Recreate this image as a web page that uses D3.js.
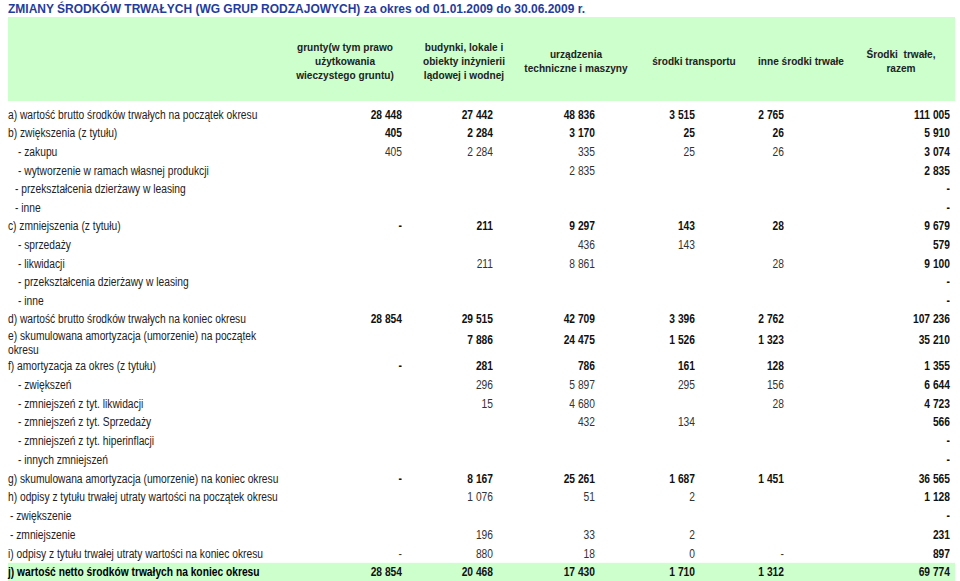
<!DOCTYPE html>
<html>
<head>
<meta charset="utf-8">
<script src="https://cdn.jsdelivr.net/npm/d3@7"></script>
<style>
  body { margin: 0; background: #fff; }
  svg { display: block; }
  text { white-space: pre; }
</style>
</head>
<body>
<svg width="960" height="581"></svg>
<script>
const title = "ZMIANY ŚRODKÓW TRWAŁYCH (WG GRUP RODZAJOWYCH) za okres od 01.01.2009 do 30.06.2009 r.";

const columns = [
    ["grunty(w tym prawo", "użytkowania", "wieczystego gruntu)"],
    ["budynki, lokale i", "obiekty inżynierii", "lądowej i wodnej"],
    ["urządzenia", "techniczne i maszyny"],
    ["środki transportu"],
    ["inne środki trwałe"],
    ["Środki  trwałe,", "razem"]
];

const rowLabels = [
    ["a) wartość brutto środków trwałych na początek okresu"],
    ["b) zwiększenia (z tytułu)"],
    ["- zakupu"],
    ["- wytworzenie w ramach własnej produkcji"],
    ["- przekształcenia dzierżawy w leasing"],
    ["- inne"],
    ["c) zmniejszenia (z tytułu)"],
    ["- sprzedaży"],
    ["- likwidacji"],
    ["- przekształcenia dzierżawy w leasing"],
    ["- inne"],
    ["d) wartość brutto środków trwałych na koniec okresu"],
    ["e) skumulowana amortyzacja (umorzenie) na początek", "okresu"],
    ["f) amortyzacja za okres (z tytułu)"],
    ["- zwiększeń"],
    ["- zmniejszeń z tyt. likwidacji"],
    ["- zmniejszeń z tyt. Sprzedaży"],
    ["- zmniejszeń z tyt. hiperinflacji"],
    ["- innych zmniejszeń"],
    ["g) skumulowana amortyzacja (umorzenie) na koniec okresu"],
    ["h) odpisy z tytułu trwałej utraty wartości na początek okresu"],
    ["- zwiększenie"],
    ["- zmniejszenie"],
    ["i) odpisy z tytułu trwałej utraty wartości na koniec okresu"],
    ["j) wartość netto środków trwałych na koniec okresu"]
];

// null = empty cell, "-" = dash
const grunty     = [28448, 405, 405, null, null, null, "-", null, null, null, null, 28854, null, "-", null, null, null, null, null, "-", null, null, null, "-", 28854];
const budynki    = [27442, 2284, 2284, null, null, null, 211, null, 211, null, null, 29515, 7886, 281, 296, 15, null, null, null, 8167, 1076, null, 196, 880, 20468];
const urzadzenia = [48836, 3170, 335, 2835, null, null, 9297, 436, 8861, null, null, 42709, 24475, 786, 5897, 4680, 432, null, null, 25261, 51, null, 33, 18, 17430];
const transport  = [3515, 25, 25, null, null, null, 143, 143, null, null, null, 3396, 1526, 161, 295, null, 134, null, null, 1687, 2, null, 2, 0, 1710];
const inne       = [2765, 26, 26, null, null, null, 28, null, 28, null, null, 2762, 1323, 128, 156, 28, null, null, null, 1451, null, null, null, "-", 1312];
const razem      = [111005, 5910, 3074, 2835, "-", "-", 9679, 579, 9100, "-", "-", 107236, 35210, 1355, 6644, 4723, 566, "-", "-", 36565, 1128, "-", 231, 897, 69774];

const series = [grunty, budynki, urzadzenia, transport, inne, razem];

// row styling / layout
const mainRows = [0, 1, 6, 11, 12, 13, 19, 24];
const indents = [0, 0, 10, 10, 7, 7, 0, 10, 10, 10, 10, 0, 0, 0, 10, 10, 10, 10, 10, 0, 0, 2, 2, 0, 0];
const rowHeights = rowLabels.map((r, i) => i == 12 ? 28 : (i > 12 ? 18.75 : 18.6));

let w = 960;
let h = 581;
let left = 8;
let right = 955;
let top0 = 105;
let sx = 0.82;   // narrow face squeeze
let font = "Liberation Sans, Arial, sans-serif";

let svg = d3.select("svg");

let fmt = d3.formatLocale({thousands: " ", grouping: [3], decimal: ","}).format(",d");

let ends = d3.cumsum(rowHeights);
let yCenter = (i) => top0 + ends[i] - rowHeights[i] / 2;

let colEnd = d3.scaleOrdinal()
    .domain(d3.range(columns.length))
    .range([402, 493, 595, 695, 784, 950]);
let colMid = d3.scaleOrdinal()
    .domain(d3.range(columns.length))
    .range([345, 464, 576, 694, 801, 901]);

// title
let tsx = 0.923;
svg.append("text")
    .attr("transform", "scale(" + tsx + ",1)")
    .attr("x", left / tsx)
    .attr("y", 13)
    .attr("font-family", font)
    .attr("font-weight", "bold")
    .attr("font-size", 13)
    .attr("fill", "#1f3c9e")
    .text(title);

// header band
svg.append("rect")
    .attr("x", left)
    .attr("y", 17)
    .attr("width", right - left)
    .attr("height", 84)
    .attr("fill", "#ccffcc");

// final row band
svg.append("rect")
    .attr("x", left)
    .attr("y", yCenter(24) - 9)
    .attr("width", right - left)
    .attr("height", h - (yCenter(24) - 9))
    .attr("fill", "#ccffcc");

// header labels
let hsx = 0.92;
let head = svg.append("g")
    .attr("transform", "scale(" + hsx + ",1)")
    .attr("font-family", font)
    .attr("font-weight", "bold")
    .attr("font-size", 11)
    .attr("fill", "#222")
    .attr("text-anchor", "middle");

head.selectAll("text")
    .data(columns)
    .enter()
    .append("text")
    .attr("y", c => 65 - (c.length - 1) * 7)
    .each(function (c, i) {
        d3.select(this).selectAll("tspan")
            .data(c)
            .enter()
            .append("tspan")
            .attr("x", colMid(i) / hsx)
            .attr("dy", (l, k) => k == 0 ? 0 : 14)
            .text(l => l);
    });

// row labels
let labels = svg.append("g")
    .attr("transform", "scale(" + sx + ",1)")
    .attr("font-family", font)
    .attr("font-size", 12.5)
    .attr("fill", "#222");

labels.selectAll("text")
    .data(rowLabels)
    .enter()
    .append("text")
    .attr("y", (r, i) => yCenter(i) + 4.5 - (r.length - 1) * 7)
    .attr("font-weight", (r, i) => i == 24 ? "bold" : "normal")
    .attr("fill", (r, i) => i == 24 ? "#000" : "#222")
    .each(function (r, i) {
        d3.select(this).selectAll("tspan")
            .data(r)
            .enter()
            .append("tspan")
            .attr("x", (left + indents[i]) / sx)
            .attr("dy", (l, k) => k == 0 ? 0 : 14)
            .text(l => l);
    });

// value cells
let cells = [];
series.forEach((s, c) => {
    s.forEach((v, r) => {
        if (v !== null) cells.push({c: c, r: r, v: v});
    });
});

let isBold = (d) => d.c == 5 || mainRows.includes(d.r);

svg.append("g")
    .attr("transform", "scale(" + sx + ",1)")
    .attr("font-family", font)
    .attr("font-size", 12.5)
    .attr("text-anchor", "end")
    .selectAll("text")
    .data(cells)
    .enter()
    .append("text")
    .attr("x", d => colEnd(d.c) / sx)
    .attr("y", d => yCenter(d.r) + 4.5 - (d.r == 12 ? 3 : 0))
    .attr("font-weight", d => isBold(d) ? "bold" : "normal")
    .attr("fill", d => isBold(d) ? "#111" : "#333")
    .text(d => d.v === "-" ? "-" : fmt(d.v));
</script>
</body>
</html>
